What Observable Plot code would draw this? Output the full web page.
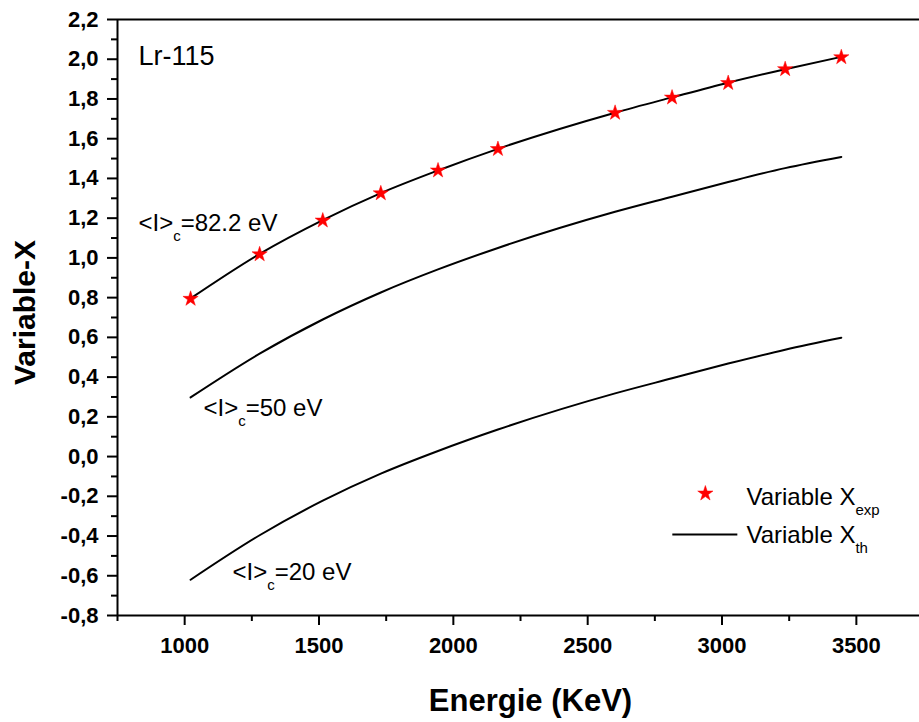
<!DOCTYPE html>
<html><head><meta charset="utf-8">
<script src="https://cdn.jsdelivr.net/npm/d3@7"></script>
<script src="https://cdn.jsdelivr.net/npm/@observablehq/plot@0.6"></script>
<style>body{margin:0;background:#fff} svg{display:block}</style>
</head><body><div id="chart"></div>
<script>
// ---- data ----
const energy = [1022, 1279, 1514, 1730, 1943, 2166, 2602, 2814, 3023, 3235, 3444];
const xExp   = [0.794, 1.018, 1.188, 1.325, 1.440, 1.548, 1.730, 1.807, 1.880, 1.950, 2.010];
const xTh82  = [0.796, 1.020, 1.190, 1.326, 1.440, 1.549, 1.731, 1.808, 1.882, 1.950, 2.012];
const xTh50  = [0.298, 0.518, 0.690, 0.826, 0.942, 1.050, 1.232, 1.308, 1.382, 1.452, 1.508];
const xTh20  = [-0.620, -0.396, -0.222, -0.086, 0.028, 0.136, 0.318, 0.394, 0.468, 0.538, 0.598];

const xDomain = [750, 3735];
const yDomain = [-0.8, 2.2];
const xMajor = [1000, 1500, 2000, 2500, 3000, 3500];
const xMinor = [750, 1250, 1750, 2250, 2750, 3250];
const yMajor = [-0.8, -0.6, -0.4, -0.2, 0.0, 0.2, 0.4, 0.6, 0.8, 1.0, 1.2, 1.4, 1.6, 1.8, 2.0, 2.2];
const yMinor = [-0.7, -0.5, -0.3, -0.1, 0.1, 0.3, 0.5, 0.7, 0.9, 1.1, 1.3, 1.5, 1.7, 1.9, 2.1];

const curveLabels = [
  {x: 828, y: 1.136, text: "<I>_{c}=82.2 eV"},
  {x: 1070, y: 0.206, text: "<I>_{c}=50 eV"},
  {x: 1178, y: -0.623, text: "<I>_{c}=20 eV"}
];
const titleLabel = {x: 828, y: 1.970, text: "Lr-115"};
const legendStar = {x: 2938, y: -0.186};
const legendLine = {x1: 2815, x2: 3057, y: -0.392};
const legendTexts = [
  {x: 3091, y: -0.246, text: "Variable X_{exp}"},
  {x: 3091, y: -0.437, text: "Variable X_{th}"}
];

const expData = energy.map((e, i) => ({e, v: xExp[i]}));
const thData = [
  ...energy.map((e, i) => ({e, v: xTh82[i], s: "82.2"})),
  ...energy.map((e, i) => ({e, v: xTh50[i], s: "50"})),
  ...energy.map((e, i) => ({e, v: xTh20[i], s: "20"}))
];

const fmtY = d => d.toFixed(1).replace(".", ",");

const chart = Plot.plot({
  width: 919, height: 722,
  marginLeft: 117, marginRight: 0, marginTop: 19, marginBottom: 107,
  style: {fontFamily: "'Liberation Sans', Arial, sans-serif", background: "#fff", color: "#000", overflow: "visible"},
  x: {domain: xDomain},
  y: {domain: yDomain},
  marks: [
    Plot.axisX({ticks: xMajor, tickSize: 10, tickPadding: 12, tickFormat: d => String(d), fontSize: 22, fontWeight: "bold", label: null, strokeWidth: 2}),
    Plot.axisX({ticks: xMinor, tickSize: 6, tickFormat: () => "", label: null, strokeWidth: 2}),
    Plot.axisY({ticks: yMajor, tickSize: 10, tickPadding: 9, tickFormat: fmtY, fontSize: 22, fontWeight: "bold", label: null, strokeWidth: 2}),
    Plot.axisY({ticks: yMinor, tickSize: 6, tickFormat: () => "", label: null, strokeWidth: 2}),
    Plot.ruleX([xDomain[0]], {stroke: "#000", strokeWidth: 2}),
    Plot.ruleY([yDomain[0], yDomain[1]], {stroke: "#000", strokeWidth: 2}),
    Plot.line(thData, {x: "e", y: "v", z: "s", stroke: "#000", strokeWidth: 2, curve: "monotone-x"}),
    Plot.dot(expData, {x: "e", y: "v", symbol: "star", r: 4.8, fill: "#ff0000", stroke: "#ff0000", strokeWidth: 0.5}),
    Plot.text([titleLabel], {x: "x", y: "y", text: "text", textAnchor: "start", lineAnchor: "bottom", fontSize: 27, fill: "#000"}),
    Plot.text(curveLabels, {x: "x", y: "y", text: "text", textAnchor: "start", lineAnchor: "bottom", fontSize: 24, fill: "#000"}),
    Plot.dot([legendStar], {x: "x", y: "y", symbol: "star", r: 4.8, fill: "#ff0000", stroke: "#ff0000", strokeWidth: 0.5}),
    Plot.link([legendLine], {x1: "x1", x2: "x2", y1: "y", y2: "y", stroke: "#000", strokeWidth: 2}),
    Plot.text(legendTexts, {x: "x", y: "y", text: "text", textAnchor: "start", lineAnchor: "bottom", fontSize: 24, fill: "#000"}),
    Plot.text(["Variable-X"], {frameAnchor: "left", dx: -92, dy: -5, rotate: -90, textAnchor: "middle", lineAnchor: "middle", fontSize: 30, fontWeight: "bold", fill: "#000"}),
    Plot.text(["Energie (KeV)"], {frameAnchor: "bottom", dx: 12, dy: 86, textAnchor: "middle", lineAnchor: "middle", fontSize: 31, fontWeight: "bold", fill: "#000"})
  ]
});
document.getElementById("chart").appendChild(chart);

// subscripts: "a_{b}c"
d3.select(chart).selectAll("text").each(function() {
  const t = this.textContent;
  const m = t.match(/^(.*)_\{(.+?)\}(.*)$/);
  if (!m) return;
  const fs = parseFloat(getComputedStyle(this).fontSize) || 20;
  const shift = Math.round(fs * 0.42);
  this.textContent = "";
  const sel = d3.select(this);
  sel.append("tspan").text(m[1]);
  sel.append("tspan").attr("font-size", Math.round(fs * 0.62)).attr("dy", shift).text(m[2]);
  if (m[3]) sel.append("tspan").attr("dy", -shift).text(m[3]);
});
</script>
</body></html>
